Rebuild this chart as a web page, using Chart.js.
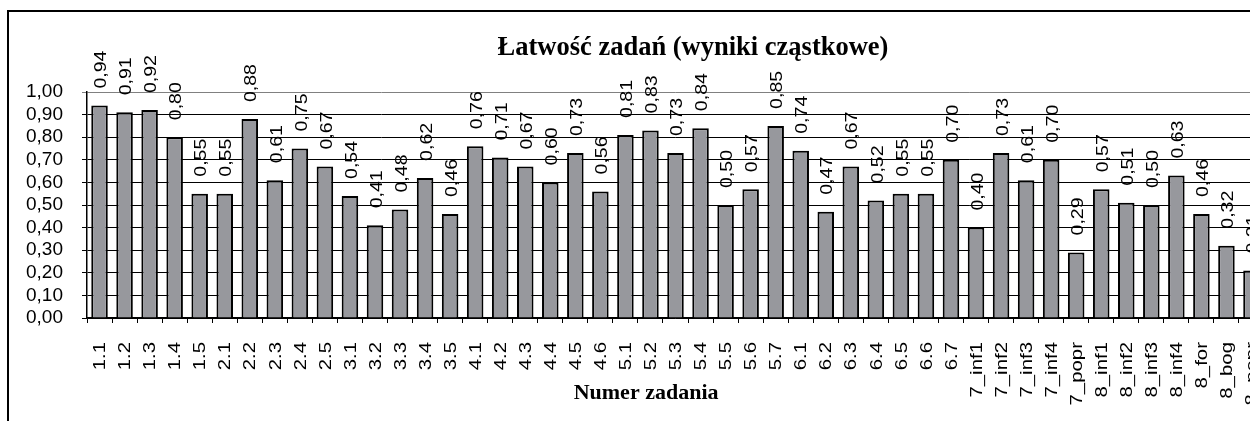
<!DOCTYPE html>
<html>
<head>
<meta charset="utf-8">
<script src="https://cdn.jsdelivr.net/npm/chart.js@4/dist/chart.umd.min.js"></script>
<style>
    html, body { margin: 0; padding: 0; background: #fff; overflow: hidden; width: 1250px; height: 421px; }
    #frame { position: absolute; left: 7px; top: 10px; width: 1400px; height: 440px;
             border-left: 2px solid #000; border-top: 2px solid #000; }
    #chartWrap { position: absolute; left: 0; top: 0; width: 1368px; height: 393px; }
</style>
</head>
<body>
<div id="frame">
    <div id="chartWrap"><canvas id="resultPlot"></canvas></div>
</div>
<script>
// task numbers and their ease index
let categories = ['1.1', '1.2', '1.3', '1.4', '1.5', '2.1', '2.2', '2.3', '2.4', '2.5',
    '3.1', '3.2', '3.3', '3.4', '3.5', '4.1', '4.2', '4.3', '4.4', '4.5', '4.6',
    '5.1', '5.2', '5.3', '5.4', '5.5', '5.6', '5.7', '6.1', '6.2', '6.3', '6.4', '6.5', '6.6', '6.7',
    '7_inf1', '7_inf2', '7_inf3', '7_inf4', '7_popr', '8_inf1', '8_inf2', '8_inf3', '8_inf4',
    '8_for', '8_bog', '8_popr'];
let easeValues = [0.94, 0.91, 0.92, 0.80, 0.55, 0.55, 0.88, 0.61, 0.75, 0.67,
    0.54, 0.41, 0.48, 0.62, 0.46, 0.76, 0.71, 0.67, 0.60, 0.73, 0.56,
    0.81, 0.83, 0.73, 0.84, 0.50, 0.57, 0.85, 0.74, 0.47, 0.67, 0.52, 0.55, 0.55, 0.70,
    0.40, 0.73, 0.61, 0.70, 0.29, 0.57, 0.51, 0.50, 0.63,
    0.46, 0.32, 0.21];
let yTicks = [0, 0.1, 0.2, 0.3, 0.4, 0.5, 0.6, 0.7, 0.8, 0.9, 1.0];

let chartTitle = 'Łatwość zadań (wyniki cząstkowe)';
let xTitle = 'Numer zadania';

let sansFont = '"Liberation Sans", Arial, sans-serif';
let serifFont = '"Liberation Serif", "Times New Roman", serif';

/**
 * polish decimal comma
 */
function fmt(v){
    return v.toFixed(2).replace('.', ',');
}

/**
 * draw a string rotated by 90 degrees, stretched along the text
 */
function drawVertical(ctx, text, x, y, align, stretch){
    ctx.save();
    ctx.translate(x, y);
    ctx.rotate(-Math.PI / 2);
    ctx.scale(stretch, 1);
    ctx.textAlign = align;
    ctx.textBaseline = 'middle';
    ctx.fillText(text, 0, 0);
    ctx.restore();
}

/**
 * value labels, category labels and titles (Excel style)
 */
let excelTexts = {
    id: 'excelTexts',
    afterDatasetsDraw: function(chart){
        let ctx = chart.ctx;
        let area = chart.chartArea;
        let xScale = chart.scales.x;
        let meta = chart.getDatasetMeta(0);
        ctx.save();
        ctx.fillStyle = '#000';

        // values above bars
        ctx.font = '17px ' + sansFont;
        for (let i = 0; i < meta.data.length; i++){
            let bar = meta.data[i];
            drawVertical(ctx, fmt(easeValues[i]), bar.x + 2, bar.y - 17, 'left', 1.15);
        }

        // category labels under the axis
        for (let i = 0; i < categories.length; i++){
            let x = xScale.getPixelForTick(i);
            drawVertical(ctx, categories[i], x + 1, area.bottom + 24, 'right', 1.2);
        }

        // chart title
        ctx.textAlign = 'center';
        ctx.textBaseline = 'middle';
        ctx.font = 'bold 26.5px ' + serifFont;
        ctx.fillText(chartTitle, chart.width / 2, 36);

        // axis title
        ctx.font = 'bold 22px ' + serifFont;
        ctx.fillText(xTitle, area.left + (area.right - area.left) * 0.475, 381);
        ctx.restore();
    }
};

function draw(){
    let plotArea = document.getElementById('resultPlot');
    let chartObject = {};
    chartObject['type'] = 'bar';
    chartObject['data'] = {
        labels: categories,
        datasets: [{
            data: easeValues,
            backgroundColor: '#97989d',
            borderColor: '#000',
            borderWidth: 2,
            barPercentage: 0.66,
            categoryPercentage: 1.0
        }]
    };
    chartObject['options'] = {
        responsive: true,
        maintainAspectRatio: false,
        animation: false,
        devicePixelRatio: 1,
        layout: {padding: {left: 0, right: 113, top: 80, bottom: 0}},
        plugins: {
            legend: {display: false},
            tooltip: {enabled: false},
            title: {display: false}
        },
        scales: {
            x: {
                ticks: {display: false, autoSkip: false},
                grid: {display: true, drawOnChartArea: false, drawTicks: true, tickLength: 5, color: '#000', lineWidth: 1},
                border: {display: true, color: '#000', width: 1.5},
                afterFit: function(scale){ scale.height = 87; }
            },
            y: {
                min: 0, max: 1,
                afterBuildTicks: function(scale){
                    scale.ticks = yTicks.map(function(v){ return {value: v}; });
                },
                ticks: {
                    color: '#000', font: {family: sansFont, size: 19}, padding: 19, autoSkip: false,
                    callback: function(v){ return fmt(v); }
                },
                grid: {
                    tickLength: 5, lineWidth: 1,
                    color: function(c){ return c.tick && c.tick.value === 1 ? '#808080' : '#000'; }
                },
                border: {display: true, color: '#000', width: 1.5},
                afterFit: function(scale){ scale.width = 78; }
            }
        }
    };
    chartObject['plugins'] = [excelTexts];
    plot = new Chart(plotArea, chartObject);
}

draw();
</script>
</body>
</html>
